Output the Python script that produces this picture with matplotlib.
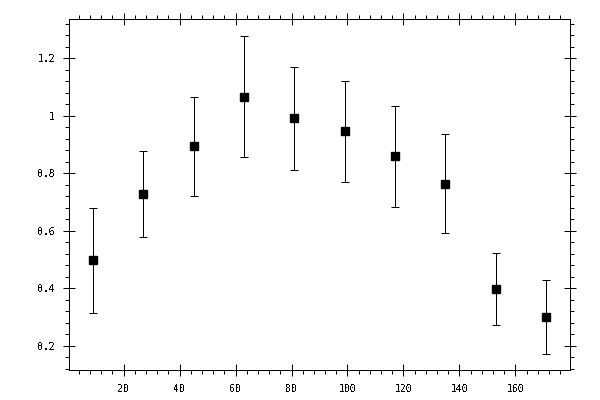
import matplotlib
matplotlib.use("Agg")
import matplotlib.pyplot as plt
from matplotlib.ticker import MultipleLocator

# values
x_vals = [9, 27, 45, 63, 81, 99, 117, 135, 153, 171]
y_vals = [0.497, 0.727, 0.894, 1.067, 0.991, 0.946, 0.859, 0.764, 0.399, 0.301]
y_err = [0.183, 0.150, 0.173, 0.211, 0.179, 0.177, 0.175, 0.173, 0.125, 0.129]

plt.rcParams['font.family'] = 'DejaVu Sans Mono'
plt.rcParams['text.antialiased'] = False
plt.rcParams['lines.antialiased'] = False

lw = 0.72  # one pixel at 100 dpi

fig = plt.figure(figsize=(6, 4), dpi=100)
ax = fig.add_axes([0.115, 0.075, 0.835, 0.8775])

ax.errorbar(x_vals, y_vals, yerr=y_err, fmt='s', color='black',
            markersize=6, elinewidth=lw, capsize=3, capthick=lw)

ax.set_xlim(0.5, 179.5)
ax.set_ylim(0.116, 1.337)

ax.xaxis.set_major_locator(MultipleLocator(20))
ax.xaxis.set_minor_locator(MultipleLocator(4))
ax.yaxis.set_major_locator(MultipleLocator(0.2))
ax.yaxis.set_minor_locator(MultipleLocator(0.04))

ax.tick_params(which='major', direction='inout', length=8, width=lw,
               top=True, right=True, labelsize=7, pad=6)
ax.tick_params(which='minor', direction='out', length=3, width=lw,
               top=True, right=True)
ax.yaxis.set_major_formatter(plt.FuncFormatter(lambda v, p: ('%g' % round(v, 2))))

for s in ax.spines.values():
    s.set_linewidth(lw)

fig.savefig('out.png', dpi=100)
